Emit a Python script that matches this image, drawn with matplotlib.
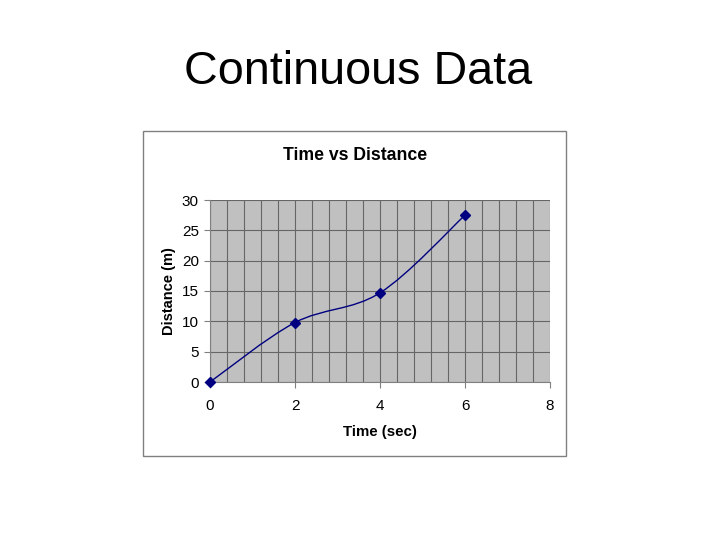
import matplotlib.pyplot as plt
import numpy as np
from matplotlib.path import Path
from matplotlib.patches import PathPatch, Rectangle
from matplotlib.ticker import MultipleLocator

plt.rcParams['font.family'] = ['Liberation Sans', 'DejaVu Sans']

time_sec = [0, 2, 4, 6]
distance_m = [0, 9.8, 14.7, 27.5]
x_ticks = [0, 2, 4, 6, 8]
y_ticks = [0, 5, 10, 15, 20, 25, 30]

navy = '#000080'

fig = plt.figure(figsize=(7.2, 5.4), dpi=100)
fig.text(0.4975, 1 - 72 / 540, 'Continuous Data', ha='center', va='center', fontsize=33.7)

# chart frame
fig.patches.append(Rectangle((143 / 720, 1 - 456 / 540), 423 / 720, 325 / 540,
                             transform=fig.transFigure, fill=False,
                             edgecolor='#808080', linewidth=1))
fig.text(355 / 720, 1 - 156 / 540, 'Time vs Distance', ha='center', va='center',
         fontsize=12.7, fontweight='bold')

ax = fig.add_axes([210 / 720, 1 - 382 / 540, 340 / 720, 182 / 540])
ax.set_facecolor('#c0c0c0')
ax.set_xlim(0, 8)
ax.set_ylim(0, 30)
ax.set_xticks(x_ticks)
ax.set_yticks(y_ticks)
ax.xaxis.set_minor_locator(MultipleLocator(0.4))
ax.grid(which='major', axis='y', color='#666666', linewidth=0.8)
ax.grid(which='both', axis='x', color='#666666', linewidth=0.8)
ax.set_axisbelow(True)
ax.tick_params(which='minor', length=0)
ax.tick_params(which='major', length=4, color='#808080', labelsize=11)
ax.tick_params(axis='x', pad=8)
ax.tick_params(axis='y', pad=4)
for side in ['top', 'right']:
    ax.spines[side].set_visible(False)
for side in ['left', 'bottom']:
    ax.spines[side].set_color('#808080')

ax.set_xlabel('Time (sec)', fontsize=10.8, fontweight='bold', labelpad=9)
ax.set_ylabel('Distance (m)', fontsize=10.5, fontweight='bold', labelpad=4)

# smoothed line (Excel-style Bezier through the points)
x = np.array(time_sec, dtype=float)
y = np.array(distance_m, dtype=float)
n = len(x)
verts = [(x[0], y[0])]
codes = [Path.MOVETO]
for i in range(n - 1):
    x0, y0 = (x[i - 1], y[i - 1]) if i > 0 else (x[i], y[i])
    x3, y3 = (x[i + 2], y[i + 2]) if i + 2 < n else (x[i + 1], y[i + 1])
    c1 = (x[i] + (x[i + 1] - x0) / 6, y[i] + (y[i + 1] - y0) / 6)
    c2 = (x[i + 1] - (x3 - x[i]) / 6, y[i + 1] - (y3 - y[i]) / 6)
    verts += [c1, c2, (x[i + 1], y[i + 1])]
    codes += [Path.CURVE4] * 3
ax.add_patch(PathPatch(Path(verts, codes), fill=False, edgecolor=navy, linewidth=1))
ax.plot(time_sec, distance_m, linestyle='none', marker='D', markersize=5,
        color=navy, clip_on=False, zorder=3)

fig.savefig('out.png', dpi=100)
